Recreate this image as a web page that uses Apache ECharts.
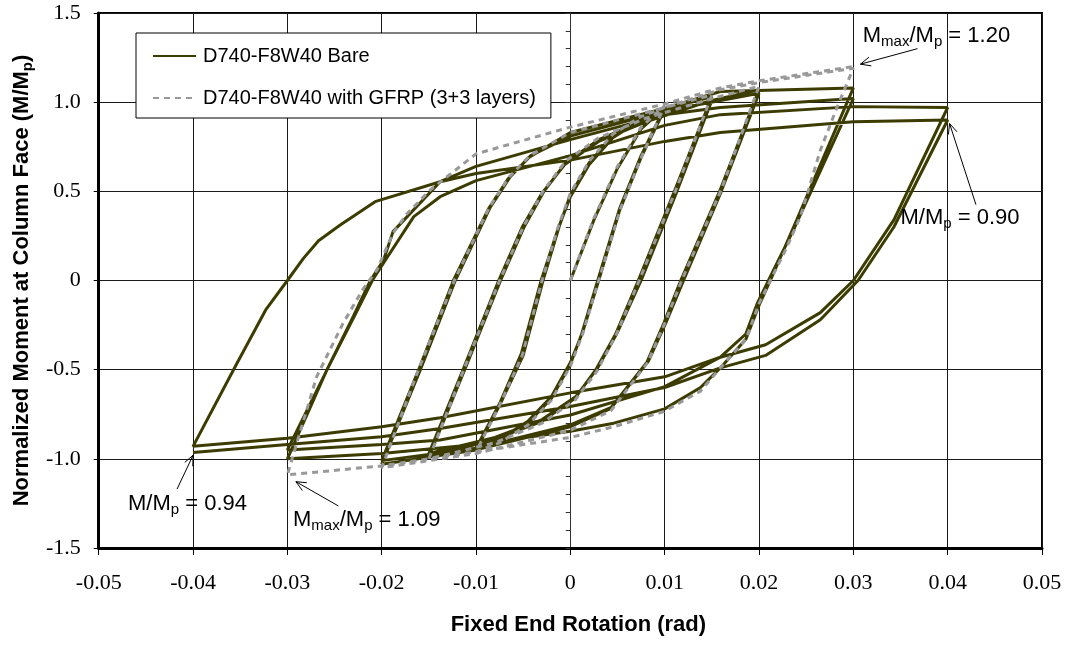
<!DOCTYPE html>
<html><head><meta charset="utf-8">
<script src="https://cdn.jsdelivr.net/npm/echarts@6/dist/echarts.min.js"></script>
<style>html,body{margin:0;padding:0;background:#fff}#c{width:1074px;height:646px}</style>
</head><body><div id="c"></div>
<script>
// ---- tick labels ----
const xTickLabels = ['-0.05','-0.04','-0.03','-0.02','-0.01','0','0.01','0.02','0.03','0.04','0.05'];
const yTickLabels = ['-1.5','-1.0','-0.5','0','0.5','1.0','1.5'];
const seriesNames = ['D740-F8W40 Bare', 'D740-F8W40 with GFRP (3+3 layers)'];

// ---- Bare specimen, branch by branch [rotation, M/Mp] ----
const bare01 = [[0,0],[0.0025,0.34],[0.005,0.63],[0.0075,0.85],[0.01,0.97]];
const bare02 = [[0.01,0.97],[0.0075,0.70],[0.0052,0.40],[0.0029,0],[0.0012,-0.30],[0,-0.47],[-0.002,-0.66],[-0.0045,-0.80],[-0.0075,-0.90],[-0.01,-0.95]];
const bare03 = [[-0.01,-0.95],[-0.0075,-0.70],[-0.005,-0.42],[-0.0029,0],[-0.0012,0.30],[0,0.48],[0.002,0.66],[0.0045,0.81],[0.0075,0.91],[0.01,0.96]];
const bare04 = [[0.01,0.96],[0.0075,0.69],[0.0052,0.39],[0.003,0],[0.0013,-0.29],[0,-0.46],[-0.002,-0.65],[-0.0045,-0.79],[-0.0075,-0.89],[-0.01,-0.94]];
const bare05 = [[-0.01,-0.94],[-0.0075,-0.69],[-0.0052,-0.41],[-0.0031,0],[-0.0013,0.29],[0,0.47],[0.002,0.65],[0.0045,0.80],[0.0075,0.90],[0.01,0.96],[0.015,1.03]];
const bare06 = [[0.015,1.03],[0.0111,0.51],[0.0072,0],[0.0048,-0.30],[0.0027,-0.50],[0.0005,-0.66],[-0.003,-0.79],[-0.008,-0.89],[-0.015,-0.99]];
const bare07 = [[-0.015,-0.99],[-0.0112,-0.50],[-0.0074,0],[-0.0049,0.30],[-0.0028,0.50],[-0.0005,0.66],[0.003,0.79],[0.008,0.90],[0.015,1.01]];
const bare08 = [[0.015,1.01],[0.0113,0.50],[0.0075,0],[0.005,-0.29],[0.0029,-0.49],[0.0006,-0.65],[-0.003,-0.78],[-0.008,-0.88],[-0.015,-0.97]];
const bare09 = [[-0.015,-0.97],[-0.0113,-0.49],[-0.0076,0],[-0.0051,0.30],[-0.003,0.49],[-0.0006,0.65],[0.003,0.78],[0.008,0.89],[0.015,1.01],[0.02,1.07]];
const bare10 = [[0.02,1.07],[0.0159,0.51],[0.0117,0],[0.0099,-0.24],[0.0081,-0.46],[0.0042,-0.72],[0,-0.82],[-0.01,-0.95],[-0.02,-1.03]];
const bare11 = [[-0.02,-1.03],[-0.0159,-0.50],[-0.0122,0],[-0.0085,0.41],[-0.0064,0.58],[-0.0042,0.70],[0,0.81],[0.01,0.95],[0.02,1.05]];
const bare12 = [[0.02,1.05],[0.016,0.50],[0.012,0],[0.0101,-0.24],[0.0083,-0.45],[0.0044,-0.71],[0,-0.81],[-0.01,-0.94],[-0.02,-1.01]];
const bare13 = [[-0.02,-1.01],[-0.016,-0.49],[-0.0124,0],[-0.0087,0.40],[-0.0066,0.57],[-0.0044,0.69],[0,0.83],[0.01,0.965],[0.0159,1.06],[0.03,1.08]];
const bare14 = [[0.03,1.08],[0.024,0.34],[0.0212,0],[0.020,-0.14],[0.0186,-0.33],[0.0159,-0.49],[0.0138,-0.60],[0.01,-0.72],[0.0046,-0.80],[0,-0.845],[-0.01,-0.92],[-0.02,-0.97],[-0.03,-1.0]];
const bare15 = [[-0.03,-1.0],[-0.0258,-0.50],[-0.023,-0.20],[-0.0212,0],[-0.0198,0.115],[-0.0188,0.274],[-0.0138,0.554],[-0.01,0.64],[0,0.79],[0.01,0.93],[0.0159,0.97],[0.03,1.02]];
const bare16 = [[0.03,1.02],[0.0238,0.30],[0.021,0],[0.0198,-0.13],[0.0186,-0.30],[0.0159,-0.43],[0.01,-0.595],[0,-0.754],[-0.0138,-0.894],[-0.02,-0.92],[-0.03,-0.95]];
const bare17 = [[-0.03,-0.95],[-0.0256,-0.48],[-0.0228,-0.19],[-0.021,0],[-0.0196,0.115],[-0.0166,0.358],[-0.0138,0.47],[-0.01,0.56],[0,0.70],[0.01,0.87],[0.0159,0.93],[0.03,0.975],[0.04,0.97]];
const bare18 = [[0.04,0.97],[0.0343,0.34],[0.030,0],[0.0265,-0.18],[0.0207,-0.36],[0.0159,-0.43],[0.01,-0.54],[0,-0.63],[-0.0138,-0.77],[-0.02,-0.82],[-0.03,-0.885],[-0.04,-0.93]];
const bare19 = [[-0.04,-0.93],[-0.0353,-0.46],[-0.0323,-0.165],[-0.030,0],[-0.0283,0.124],[-0.0267,0.223],[-0.0244,0.311],[-0.0207,0.442],[-0.0138,0.554],[-0.01,0.60],[0,0.675],[0.01,0.78],[0.0159,0.83],[0.03,0.89],[0.04,0.90]];
const bare20 = [[0.04,0.90],[0.0343,0.30],[0.0305,0],[0.0265,-0.22],[0.0207,-0.42],[0.0159,-0.49],[0.01,-0.60],[0,-0.707],[-0.0138,-0.83],[-0.02,-0.876],[-0.03,-0.92],[-0.04,-0.965]];

// ---- GFRP-strengthened specimen ----
const gfrp01 = [[0,0],[0.0025,0.35],[0.005,0.64],[0.0075,0.86],[0.01,0.98]];
const gfrp02 = [[0.01,0.98],[0.0076,0.70],[0.0053,0.40],[0.003,0],[0.0013,-0.30],[0,-0.48],[-0.002,-0.67],[-0.0045,-0.81],[-0.0075,-0.91],[-0.01,-0.96]];
const gfrp03 = [[-0.01,-0.96],[-0.0075,-0.70],[-0.0051,-0.42],[-0.003,0],[-0.0013,0.30],[0,0.49],[0.002,0.67],[0.0045,0.82],[0.0075,0.92],[0.01,0.97],[0.015,1.04]];
const gfrp04 = [[0.015,1.04],[0.0112,0.51],[0.0073,0],[0.0049,-0.30],[0.0028,-0.51],[0.0005,-0.67],[-0.003,-0.80],[-0.008,-0.91],[-0.015,-1.0]];
const gfrp05 = [[-0.015,-1.0],[-0.0113,-0.50],[-0.0075,0],[-0.005,0.30],[-0.0029,0.50],[-0.0005,0.67],[0.003,0.80],[0.008,0.91],[0.015,1.02],[0.02,1.09]];
const gfrp06 = [[0.02,1.09],[0.016,0.51],[0.0118,0],[0.0100,-0.24],[0.0082,-0.46],[0.0043,-0.73],[0,-0.84],[-0.01,-0.97],[-0.02,-1.05]];
const gfrp07 = [[-0.02,-1.05],[-0.0161,-0.50],[-0.0123,0],[-0.0086,0.41],[-0.0065,0.58],[-0.0043,0.70],[0,0.83],[0.01,0.97],[0.0159,1.07],[0.02,1.11],[0.03,1.19]];
const gfrp08 = [[0.03,1.19],[0.0283,0.975],[0.0265,0.73],[0.0244,0.36],[0.0228,0.17],[0.0212,0],[0.020,-0.13],[0.0186,-0.33],[0.0159,-0.49],[0.0138,-0.62],[0.0099,-0.735],[0.0046,-0.82],[0,-0.88],[-0.0099,-0.96],[-0.0201,-1.04],[-0.03,-1.09]];
const gfrp09 = [[-0.03,-1.09],[-0.0295,-1.0],[-0.0269,-0.54],[-0.0241,-0.24],[-0.022,-0.05],[-0.0205,0.06],[-0.0188,0.265],[-0.0173,0.376],[-0.0148,0.51],[-0.01,0.71],[0,0.86],[0.01,0.99],[0.0159,1.08],[0.02,1.12],[0.03,1.20]];

// ---- annotations: [x, y] text anchor (left-middle) ----
const annoTexts = [
  '{m|M}{s|max}{m|/M}{s|p}{m| = 1.20}',
  '{m|M/M}{s|p}{m| = 0.90}',
  '{m|M/M}{s|p}{m| = 0.94}',
  '{m|M}{s|max}{m|/M}{s|p}{m| = 1.09}'
];
const annoPos = [[0.0310, 1.370], [0.0350, 0.350], [-0.0469, -1.253], [-0.0294, -1.345]];
// arrows: [tailX, tailY, headX, headY]
const arrows = [
  [0.0368, 1.300, 0.03075, 1.213],
  [0.0430, 0.425, 0.0402, 0.880],
  [-0.0417, -1.170, -0.0400, -0.980],
  [-0.0246, -1.264, -0.0291, -1.128]
];

const bareData = [].concat(bare01,bare02,bare03,bare04,bare05,bare06,bare07,bare08,bare09,bare10,
                           bare11,bare12,bare13,bare14,bare15,bare16,bare17,bare18,bare19,bare20);
const gfrpData = [].concat(gfrp01,gfrp02,gfrp03,gfrp04,gfrp05,gfrp06,gfrp07,gfrp08,gfrp09);

const chart = echarts.init(document.getElementById('c'), null, {renderer: 'canvas'});
const sans = "'Liberation Sans', Arial, sans-serif";
const serif = "'Liberation Serif', 'Times New Roman', serif";

chart.setOption({
  animation: false,
  backgroundColor: '#fff',
  grid: {left: 98, right: 32, top: 13, bottom: 98, show: true, borderColor: '#000', borderWidth: 2, backgroundColor: 'transparent'},
  legend: {
    data: seriesNames,
    orient: 'vertical',
    left: 136, top: 33,
    padding: [13, 15, 10, 16],
    itemGap: 22,
    itemWidth: 43, itemHeight: 14,
    itemStyle: {opacity: 0},
    backgroundColor: '#fff', borderColor: '#000', borderWidth: 1, borderRadius: 0,
    textStyle: {fontFamily: sans, fontSize: 20, color: '#000', lineHeight: 20, padding: [0,0,0,2]},
    selectedMode: false
  },
  xAxis: {
    type: 'value', min: -0.05, max: 0.05, interval: 0.01,
    name: 'Fixed End Rotation (rad)', nameLocation: 'middle', nameGap: 66,
    nameTextStyle: {fontFamily: sans, fontWeight: 'bold', fontSize: 22, color: '#000', padding: [0,0,0,16]},
    axisLine: {show: true, onZero: false, lineStyle: {color: '#000', width: 3}},
    axisTick: {show: true, length: 7, lineStyle: {color: '#000', width: 1}},
    axisLabel: {margin: 24, fontFamily: serif, fontSize: 22, color: '#000',
      formatter: v => xTickLabels[Math.round((v + 0.05) / 0.01)]},
    splitLine: {show: true, lineStyle: {color: '#1a1a1a', width: 1}}
  },
  yAxis: [{
    type: 'value', min: -1.5, max: 1.5, interval: 0.5,
    name: '{t|Normalized Moment at Column Face (M/M}{s|p}{t|)}', nameLocation: 'middle', nameGap: 62, nameRotate: 90,
    nameTextStyle: {rich: {
      t: {fontFamily: sans, fontWeight: 'bold', fontSize: 22, color: '#000', lineHeight: 26},
      s: {fontFamily: sans, fontWeight: 'bold', fontSize: 15, color: '#000', lineHeight: 15, padding: [12,0,0,0]}
    }},
    axisLine: {show: true, onZero: false, lineStyle: {color: '#000', width: 3}},
    axisTick: {show: true, length: 5, lineStyle: {color: '#000', width: 1}},
    axisLabel: {margin: 18, fontFamily: serif, fontSize: 22, color: '#000',
      formatter: v => yTickLabels[Math.round((v + 1.5) / 0.5)]},
    splitLine: {show: true, lineStyle: {color: '#1a1a1a', width: 1}}
  }, {
    type: 'value', min: -1.5, max: 1.5, interval: 0.1, position: 'left', offset: -472,
    axisLine: {show: true, onZero: false, lineStyle: {color: '#333', width: 1}},
    axisTick: {show: true, length: 5, lineStyle: {color: '#333', width: 1}},
    axisLabel: {show: false}, splitLine: {show: false}
  }],
  series: [{
    name: seriesNames[0], type: 'line', data: bareData, symbol: 'none', z: 3,
    lineStyle: {color: '#3c3c00', width: 3}, itemStyle: {color: '#3c3c00'}
  }, {
    name: seriesNames[1], type: 'line', data: gfrpData, symbol: 'none', z: 4,
    lineStyle: {color: '#999999', width: 3, type: [6, 5]}, itemStyle: {color: '#999999'}
  }, {
    type: 'custom', name: 'arrows', data: arrows, z: 6, silent: true,
    encode: {x: [0, 2], y: [1, 3]},
    renderItem: (params, api) => {
      const t = api.coord([api.value(0), api.value(1)]);
      const h = api.coord([api.value(2), api.value(3)]);
      const ang = Math.atan2(h[1] - t[1], h[0] - t[0]);
      const L = 11, a = 0.42;
      const p1 = [h[0] - L * Math.cos(ang - a), h[1] - L * Math.sin(ang - a)];
      const p2 = [h[0] - L * Math.cos(ang + a), h[1] - L * Math.sin(ang + a)];
      return {type: 'group', children: [
        {type: 'line', shape: {x1: t[0], y1: t[1], x2: h[0], y2: h[1]}, style: {stroke: '#000', lineWidth: 1}},
        {type: 'polyline', shape: {points: [p1, h, p2]}, style: {stroke: '#000', lineWidth: 1, fill: null}}
      ]};
    }
  }, {
    type: 'scatter', name: 'notes', data: annoPos, symbolSize: 0, z: 7, silent: true,
    itemStyle: {color: '#000', opacity: 1},
    label: {show: true, position: 'right', distance: 0, color: '#000', opacity: 1, textBorderWidth: 0,
      formatter: p => annoTexts[p.dataIndex],
      rich: {
        m: {fontFamily: sans, fontSize: 22, color: '#000', lineHeight: 26, textBorderWidth: 0},
        s: {fontFamily: sans, fontSize: 15, color: '#000', lineHeight: 15, padding: [12,0,0,0], textBorderWidth: 0}
      }}
  }]
});
</script></body></html>
